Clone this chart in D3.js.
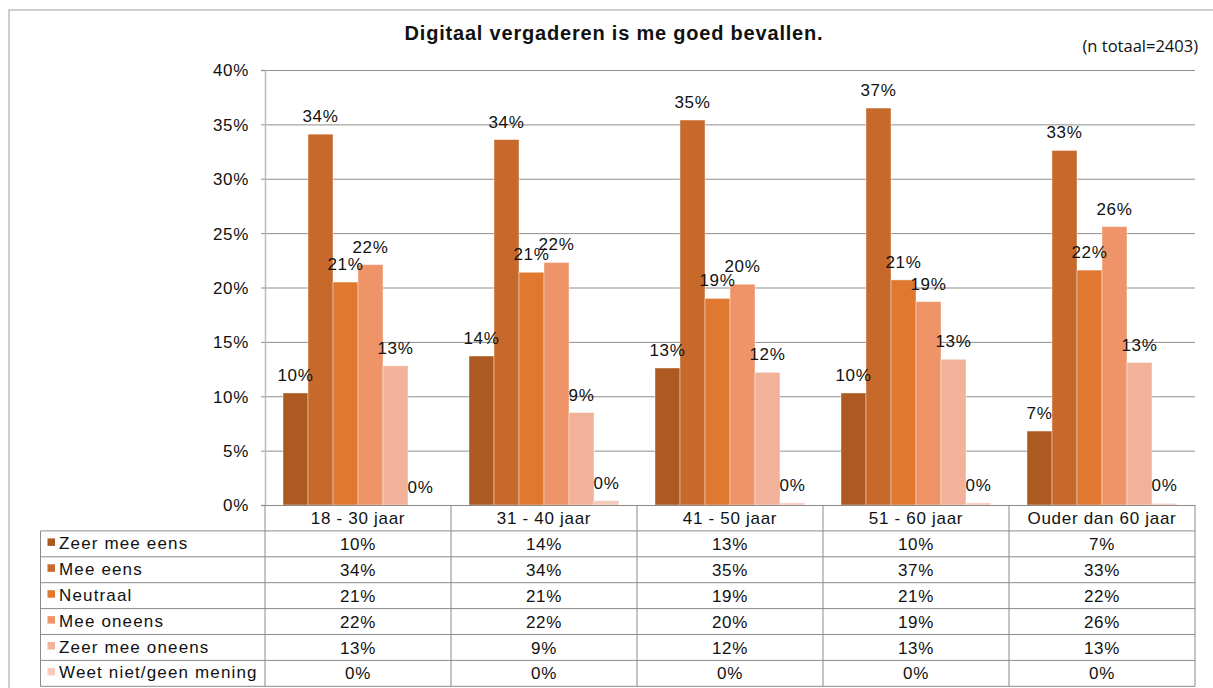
<!DOCTYPE html>
<html>
<head>
<meta charset="utf-8">
<script src="https://cdn.jsdelivr.net/npm/d3@7"></script>
<style>
	body { margin: 0; background: #fff; }
	svg text { font-family: 'Liberation Sans', Arial, sans-serif; fill: #111; }
</style>
</head>
<body>
<svg></svg>
<script>
'use strict'

// leeftijdsgroepen
let categories = ['18 - 30 jaar', '31 - 40 jaar', '41 - 50 jaar', '51 - 60 jaar', 'Ouder dan 60 jaar']

let seriesNames = ['Zeer mee eens', 'Mee eens', 'Neutraal', 'Mee oneens', 'Zeer mee oneens', 'Weet niet/geen mening']

// percentages per antwoord, per leeftijdsgroep
let zeerMeeEens = [10.3, 13.7, 12.6, 10.3, 6.8]
let meeEens = [34.1, 33.6, 35.4, 36.5, 32.6]
let neutraal = [20.5, 21.4, 19.0, 20.7, 21.6]
let meeOneens = [22.1, 22.3, 20.3, 18.7, 25.6]
let zeerMeeOneens = [12.8, 8.5, 12.2, 13.4, 13.1]
let weetNiet = [0.0, 0.4, 0.2, 0.2, 0.15]

let yTicks = [0, 5, 10, 15, 20, 25, 30, 35, 40]

let colors = ['#ad5a22', '#c6692a', '#e07830', '#ef9468', '#f2b29a', '#f5cbbc']

let values = [zeerMeeEens, meeEens, neutraal, meeOneens, zeerMeeOneens, weetNiet]

let width = 1213,
	height = 688

let plotLeft = 265,
	plotRight = 1195,
	plotTop = 70,
	plotBottom = 505,
	tableLeft = 40.5,
	rowH = 25.9

let svg = d3.select('svg')
	.attr('width', width)
	.attr('height', height)

// kader om de grafiek
svg.append('rect')
	.attr('x', 9)
	.attr('y', 10)
	.attr('width', 1300)
	.attr('height', 800)
	.attr('fill', 'none')
	.attr('stroke', '#bdbdbd')
	.attr('stroke-width', 1.5)

let x0 = d3.scaleBand()
	.domain(categories)
	.range([plotLeft, plotRight])
	.paddingInner(0.1935)
	.paddingOuter(0.0968)

let x1 = d3.scaleBand()
	.domain(d3.range(seriesNames.length))
	.range([0, x0.bandwidth()])

let y = d3.scaleLinear()
	.domain([0, 40])
	.range([plotBottom, plotTop])

// rasterlijnen
svg.append('g')
	.selectAll('line')
	.data(yTicks.slice(1))
	.enter().append('line')
	.attr('x1', plotLeft)
	.attr('x2', plotRight)
	.attr('y1', function(d) { return y(d) + 0.5 })
	.attr('y2', function(d) { return y(d) + 0.5 })
	.attr('stroke', '#8e8e8e')
	.attr('stroke-width', 1)

// y-as
let yAxis = svg.append('g')
	.attr('transform', 'translate(' + plotLeft + ',0)')
	.call(d3.axisLeft(y).tickValues(yTicks).tickSize(4).tickPadding(12).tickFormat(function(d) { return d + '%' }))

yAxis.select('.domain').attr('stroke', '#bbbbbb').attr('stroke-width', 1.5)
yAxis.selectAll('.tick line').attr('stroke', '#8e8e8e')
yAxis.selectAll('.tick text')
	.style('font-size', '17px')
	.style('letter-spacing', '0.7px')
	.attr('fill', '#111')
	.attr('dy', '0.35em')

// staven
let groups = svg.append('g')
	.selectAll('g')
	.data(categories)
	.enter().append('g')
	.attr('transform', function(d) { return 'translate(' + x0(d) + ',0)' })

groups.selectAll('rect')
	.data(function(d, i) {
		return values.map(function(s, k) { return { k: k, v: s[i] } })
	})
	.enter().append('rect')
	.attr('x', function(d) { return x1(d.k) })
	.attr('width', x1.bandwidth())
	.attr('y', function(d) { return y(d.v) })
	.attr('height', function(d) { return plotBottom - y(d.v) })
	.attr('fill', function(d) { return colors[d.k] })
	.attr('stroke', '#ffffff')
	.attr('stroke-opacity', 0.5)
	.attr('stroke-width', 0.8)

groups.selectAll('text')
	.data(function(d, i) {
		return values.map(function(s, k) { return { k: k, v: s[i] } })
	})
	.enter().append('text')
	.attr('x', function(d) { return x1(d.k) + x1.bandwidth() / 2 })
	.attr('y', function(d) { return y(d.v) - 12 })
	.attr('text-anchor', 'middle')
	.style('font-size', '17px')
	.style('letter-spacing', '0.7px')
	.text(function(d) { return Math.round(d.v) + '%' })

// titel
svg.append('text')
	.attr('x', 614)
	.attr('y', 40)
	.attr('text-anchor', 'middle')
	.style('font-size', '20px')
	.style('font-weight', 'bold')
	.style('letter-spacing', '0.8px')
	.text('Digitaal vergaderen is me goed bevallen.')

svg.append('text')
	.attr('x', 1198)
	.attr('y', 52)
	.attr('text-anchor', 'end')
	.style('font-family', "'Open Sans', sans-serif")
	.style('font-size', '16.5px')
	.text('(n totaal=2403)')

// datatabel
let table = svg.append('g')
let lineCol = '#8a8a8a'

// x-as / bovenrand tabel
table.append('line')
	.attr('x1', plotLeft).attr('x2', plotRight)
	.attr('y1', plotBottom + 0.5).attr('y2', plotBottom + 0.5)
	.attr('stroke', lineCol)

let rowTops = d3.range(seriesNames.length + 1).map(function(i) { return plotBottom + rowH * (i + 1) })

table.selectAll('line.row')
	.data(rowTops)
	.enter().append('line')
	.attr('class', 'row')
	.attr('x1', tableLeft).attr('x2', plotRight)
	.attr('y1', function(d) { return d }).attr('y2', function(d) { return d })
	.attr('stroke', lineCol)

let colEdges = categories.map(function(c) { return x0(c) - x0.step() * x0.paddingInner() / 2 })
colEdges.push(plotRight)

table.selectAll('line.col')
	.data(colEdges)
	.enter().append('line')
	.attr('class', 'col')
	.attr('x1', function(d) { return d }).attr('x2', function(d) { return d })
	.attr('y1', plotBottom).attr('y2', rowTops[rowTops.length - 1])
	.attr('stroke', lineCol)

table.append('line')
	.attr('x1', tableLeft).attr('x2', tableLeft)
	.attr('y1', rowTops[0]).attr('y2', rowTops[rowTops.length - 1])
	.attr('stroke', lineCol)

// kolomkoppen
table.selectAll('text.head')
	.data(categories)
	.enter().append('text')
	.attr('class', 'head')
	.attr('x', function(d) { return x0(d) + x0.bandwidth() / 2 })
	.attr('y', plotBottom + 19)
	.attr('text-anchor', 'middle')
	.style('font-size', '17px')
	.style('letter-spacing', '0.7px')
	.text(function(d) { return d })

// rijen
let rows = table.selectAll('g.rowg')
	.data(seriesNames)
	.enter().append('g')
	.attr('class', 'rowg')
	.attr('transform', function(d, i) { return 'translate(0,' + rowTops[i] + ')' })

rows.append('rect')
	.attr('x', 47.5)
	.attr('y', 7.5)
	.attr('width', 7.5)
	.attr('height', 7.5)
	.attr('fill', function(d, i) { return colors[i] })

rows.append('text')
	.attr('x', 59)
	.attr('y', 18)
	.style('font-size', '17px')
	.style('letter-spacing', '1.15px')
	.text(function(d) { return d })

rows.selectAll('text.val')
	.data(function(d, i) { return values[i] })
	.enter().append('text')
	.attr('class', 'val')
	.attr('x', function(d, j) { return x0(categories[j]) + x0.bandwidth() / 2 })
	.attr('y', 19)
	.attr('text-anchor', 'middle')
	.style('font-size', '17px')
	.style('letter-spacing', '0.7px')
	.text(function(d) { return Math.round(d) + '%' })
</script>
</body>
</html>
